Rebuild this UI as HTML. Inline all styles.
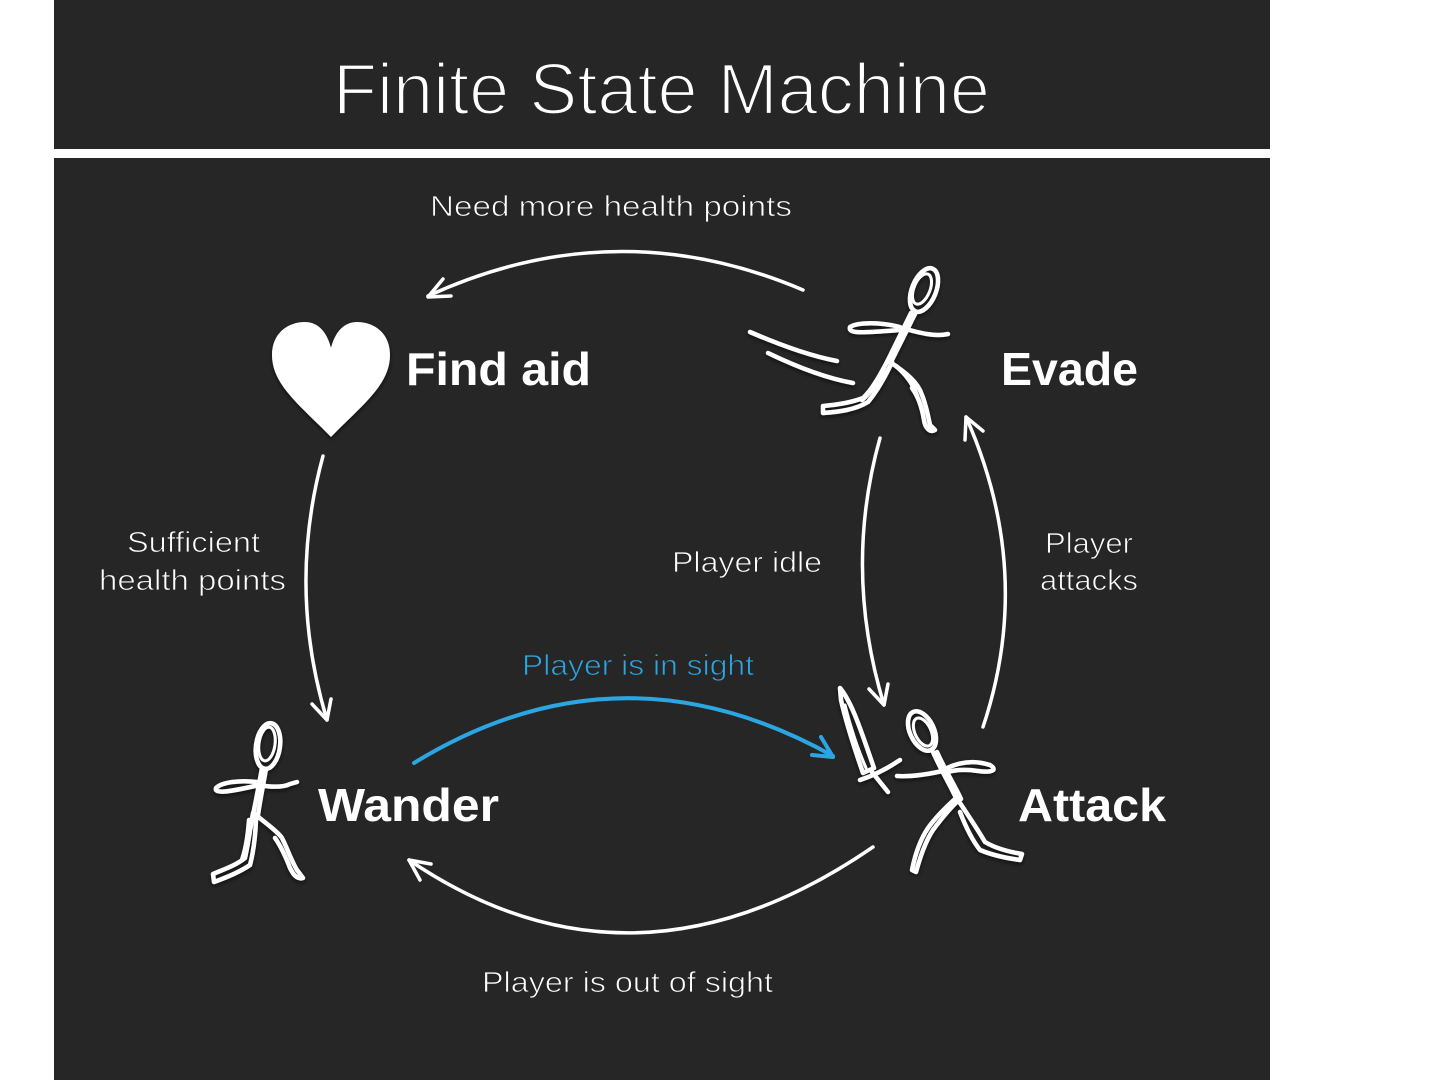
<!DOCTYPE html>
<html>
<head>
<meta charset="utf-8">
<style>
  html, body { margin:0; padding:0; background:#ffffff; }
  body { width:1440px; height:1080px; overflow:hidden; }
  svg { display:block; }
  .lbl { font-family:"Liberation Sans", sans-serif; fill:#ffffff; font-size:29px; stroke:#262626; stroke-width:0.8; }
  .st { font-family:"Liberation Sans", sans-serif; fill:#ffffff; font-size:46px; font-weight:bold; }
</style>
</head>
<body>
<svg width="1440" height="1080" viewBox="0 0 1440 1080" xmlns="http://www.w3.org/2000/svg">
  <defs>
    <filter id="sh" x="-20%" y="-20%" width="140%" height="140%">
      <feDropShadow dx="0" dy="2" stdDeviation="2" flood-color="#000" flood-opacity="0.6"/>
    </filter>
  </defs>
  <rect x="0" y="0" width="1440" height="1080" fill="#ffffff"/>
  <rect x="54" y="0" width="1216" height="149" fill="#262626"/>
  <rect x="54" y="158" width="1216" height="922" fill="#262626"/>

  <!-- Title -->
  <text x="333" y="114" font-family="Liberation Sans, sans-serif" font-size="72" fill="#ffffff" stroke="#262626" stroke-width="2.2" textLength="657" lengthAdjust="spacingAndGlyphs">Finite State Machine</text>

  <!-- Labels -->
  <text class="lbl" x="430" y="216" textLength="362" lengthAdjust="spacingAndGlyphs">Need more health points</text>
  <text class="lbl" x="127" y="552" font-size="28" textLength="133" lengthAdjust="spacingAndGlyphs">Sufficient</text>
  <text class="lbl" x="99" y="590" font-size="28" textLength="187" lengthAdjust="spacingAndGlyphs">health points</text>
  <text class="lbl" x="672" y="572" font-size="28" textLength="150" lengthAdjust="spacingAndGlyphs">Player idle</text>
  <text class="lbl" x="1045" y="553" font-size="28" textLength="88" lengthAdjust="spacingAndGlyphs">Player</text>
  <text class="lbl" x="1040" y="590" font-size="28" textLength="98" lengthAdjust="spacingAndGlyphs">attacks</text>
  <text class="lbl" x="522" y="675" style="fill:#2ba6e2" textLength="232" lengthAdjust="spacingAndGlyphs">Player is in sight</text>
  <text class="lbl" x="482" y="992" textLength="291" lengthAdjust="spacingAndGlyphs">Player is out of sight</text>

  <!-- State names -->
  <text class="st" x="406" y="385" textLength="185" lengthAdjust="spacingAndGlyphs">Find aid</text>
  <text class="st" x="1001" y="385" textLength="137" lengthAdjust="spacingAndGlyphs">Evade</text>
  <text class="st" x="318" y="821" textLength="181" lengthAdjust="spacingAndGlyphs">Wander</text>
  <text class="st" x="1018" y="821" textLength="148" lengthAdjust="spacingAndGlyphs">Attack</text>

  <!-- Arrows -->
  <g fill="none" stroke="#ffffff" stroke-width="3.5" stroke-linecap="round" stroke-linejoin="round">
    <path d="M803,290 Q615,210 428,296"/>
    <path d="M443,279 L428,297 L451,296"/>

    <path d="M323,456 Q287,588 327,720"/>
    <path d="M312,704 L327,720 L331,699"/>

    <path d="M880,438 Q843,570 884,705"/>
    <path d="M869,689 L884,705 L888,684"/>

    <path d="M983,727 Q1035,572 966,417"/>
    <path d="M965,440 L966,417 L983,431"/>

    <path d="M873,847 Q633,1012 409,860"/>
    <path d="M420,880 L409,860 L431,864"/>
  </g>
  <g fill="none" stroke="#2ba6e2" stroke-width="4" stroke-linecap="round" stroke-linejoin="round">
    <path d="M414,763 Q620,637 833,756"/>
    <path d="M821,737 L833,757 L812,755"/>
  </g>

  <!-- Heart -->
  <path filter="url(#sh)" fill="#ffffff" d="M331,437 C300,405 272,385 272,355 C272,333 288,322 305,322 C318,322 327,332 331,348 C335,332 344,322 357,322 C374,322 390,333 390,355 C390,385 362,405 331,437 Z"/>

  <!-- Wander figure -->
  <g filter="url(#sh)" fill="none" stroke="#ffffff" stroke-width="4.5" stroke-linecap="round" stroke-linejoin="round">
    <ellipse cx="268" cy="746" rx="12" ry="23" transform="rotate(8 268 746)"/>
    <ellipse cx="267" cy="744" rx="8" ry="17" transform="rotate(8 267 744)" stroke-width="3"/>
    <path d="M262,768 C259,785 256,800 253,815"/>
    <path d="M266,769 C263,786 260,801 258,815"/>
    <path d="M257,782 C240,780 222,782 216,788 C214,794 228,792 255,786"/>
    <path d="M258,785 C270,787 282,788 290,784 L297,782"/>
    <path d="M253,813 C250,830 248,845 245,858 C235,866 222,870 213,874 L214,882 C225,878 240,872 250,865 C254,850 256,830 256,815"/>
    <path d="M249,820 C248,835 246,848 242,860"/>
    <path d="M256,815 C268,825 278,832 282,838 C288,850 292,862 297,870 L303,878 C296,880 292,872 290,868 C285,855 280,845 275,838"/>
  </g>

  <!-- Evade figure -->
  <g filter="url(#sh)" fill="none" stroke="#ffffff" stroke-width="4.5" stroke-linecap="round" stroke-linejoin="round">
    <path d="M750,332 C780,345 810,356 837,361"/>
    <path d="M768,353 C795,366 825,378 853,383"/>
    <ellipse cx="924" cy="290" rx="12" ry="23" transform="rotate(22 924 290)"/>
    <ellipse cx="922" cy="289" rx="8" ry="16" transform="rotate(22 922 289)" stroke-width="3"/>
    <path d="M911,313 L887,362"/>
    <path d="M915,314 L891,362"/>
    <path d="M900,327 C880,322 858,322 850,327 C848,334 862,333 900,330"/>
    <path d="M902,328 C920,333 935,337 948,334"/>
    <path d="M888,360 C880,375 872,390 863,398 C850,403 835,405 823,406 L823,413 C838,412 855,410 868,402 C878,390 886,375 892,362"/>
    <path d="M884,368 C878,382 870,393 862,400"/>
    <path d="M890,362 C905,372 918,382 922,395 C926,405 928,415 930,425 L935,430 C930,433 925,428 924,420 C922,408 918,396 912,388"/>
    <path d="M896,366 C908,376 914,386 917,396"/>
  </g>

  <!-- Attack figure -->
  <g filter="url(#sh)" fill="none" stroke="#ffffff" stroke-width="4.5" stroke-linecap="round" stroke-linejoin="round">
    <path d="M840,688 C850,700 858,722 866,745 L874,768 L863,773 C855,750 846,722 841,700 Z"/>
    <path d="M845,705 C850,725 856,745 866,768" stroke-width="3"/>
    <path d="M860,780 C875,775 888,768 900,760"/>
    <path d="M872,772 L888,792"/>
    <ellipse cx="922" cy="731" rx="12" ry="21" transform="rotate(-25 922 731)"/>
    <ellipse cx="923" cy="732" rx="8" ry="15" transform="rotate(-25 923 732)" stroke-width="3"/>
    <path d="M933,752 C940,768 950,785 957,800"/>
    <path d="M937,752 C944,768 954,784 961,799"/>
    <path d="M947,770 C930,774 912,777 897,776"/>
    <path d="M947,768 C960,762 975,760 990,765 C998,770 992,773 978,771 C965,769 955,770 948,772"/>
    <path d="M956,798 C945,808 935,818 928,828 C920,840 915,855 912,870 L916,872 C920,858 925,842 933,830 C942,818 950,808 959,800"/>
    <path d="M958,800 C968,815 978,830 985,842 C995,848 1010,852 1022,854 L1020,860 C1005,858 992,855 980,850 C972,840 965,825 960,812"/>
  </g>
</svg>
</body>
</html>
